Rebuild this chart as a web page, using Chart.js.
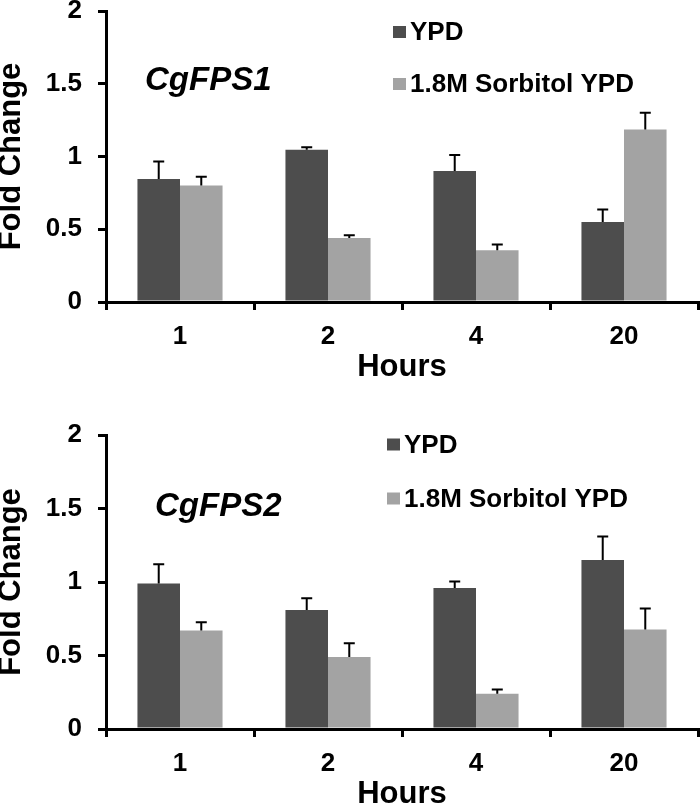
<!DOCTYPE html>
<html>
<head>
<meta charset="utf-8">
<script src="https://cdn.jsdelivr.net/npm/chart.js@4.4.1/dist/chart.umd.min.js"></script>
<style>
    html, body { margin: 0; padding: 0; background: #fff; overflow: hidden; width: 700px; height: 805px; }
    .panel { position: absolute; left: 0; }
</style>
</head>
<body>
<div class="panel" style="top:0"><canvas id="fps1Chart" width="700" height="400"></canvas></div>
<div class="panel" style="top:400px"><canvas id="fps2Chart" width="700" height="427"></canvas></div>
<script>
// Data
const hours = ['1', '2', '4', '20'];
const seriesNames = ['YPD', '1.8M Sorbitol YPD'];

const fps1Ypd = [0.845, 1.046, 0.900, 0.550];
const fps1YpdErr = [0.120, 0.018, 0.110, 0.085];
const fps1Sorb = [0.800, 0.440, 0.355, 1.185];
const fps1SorbErr = [0.060, 0.018, 0.040, 0.115];

const fps2Ypd = [0.990, 0.810, 0.960, 1.150];
const fps2YpdErr = [0.130, 0.080, 0.044, 0.160];
const fps2Sorb = [0.670, 0.490, 0.240, 0.677];
const fps2SorbErr = [0.057, 0.094, 0.028, 0.143];

const yMax = 2;
const yStep = 0.5;

const FONT = "'Liberation Sans', Arial, sans-serif";
const DARK = '#4d4d4d';
const LIGHT = '#a3a3a3';

Chart.defaults.font.family = FONT;
Chart.defaults.color = '#000';

// plus-only error bars, like Excel
const errorBarPlugin = {
    id: 'errorBars',
    afterDatasetsDraw(chart) {
        const ctx = chart.ctx;
        const yScale = chart.scales.y;
        ctx.save();
        ctx.strokeStyle = '#000';
        ctx.lineWidth = 2;
        chart.data.datasets.forEach((ds, i) => {
            const meta = chart.getDatasetMeta(i);
            meta.data.forEach((bar, j) => {
                const err = ds.errors[j];
                const yEnd = yScale.getPixelForValue(ds.data[j] + err);
                ctx.beginPath();
                ctx.moveTo(bar.x, bar.y);
                ctx.lineTo(bar.x, yEnd);
                ctx.moveTo(bar.x - 5.5, yEnd);
                ctx.lineTo(bar.x + 5.5, yEnd);
                ctx.stroke();
            });
        });
        ctx.restore();
    }
};

// legend and gene name drawn inside the plot area
const insideTextPlugin = {
    id: 'insideText',
    afterDraw(chart, args, opts) {
        const ctx = chart.ctx;
        ctx.save();
        ctx.textBaseline = 'middle';
        ctx.textAlign = 'left';
        chart.data.datasets.forEach((ds, i) => {
            const cy = opts.legendY[i];
            ctx.fillStyle = ds.backgroundColor;
            ctx.fillRect(opts.legendX, cy - 6, 13, 12);
            ctx.fillStyle = '#000';
            ctx.font = 'bold 26px ' + FONT;
            ctx.fillText(ds.label, opts.legendX + 17, cy + 1);
        });
        ctx.font = 'italic bold 33px ' + FONT;
        ctx.fillText(opts.gene, opts.geneX, opts.geneY);
        ctx.restore();
    }
};

function buildChart(canvasId, ypd, ypdErr, sorb, sorbErr, place) {
    const ctx = document.getElementById(canvasId).getContext('2d');
    return new Chart(ctx, {
        type: 'bar',
        data: {
            labels: hours,
            datasets: [
                { label: seriesNames[0], data: ypd, errors: ypdErr, backgroundColor: DARK },
                { label: seriesNames[1], data: sorb, errors: sorbErr, backgroundColor: LIGHT }
            ]
        },
        options: {
            responsive: false,
            animation: false,
            devicePixelRatio: 1,
            categoryPercentage: 0.575,
            barPercentage: 1,
            layout: { padding: { top: place.top, right: 2, left: 0, bottom: 0 } },
            plugins: {
                legend: { display: false },
                tooltip: { enabled: false },
                insideText: place.text
            },
            scales: {
                x: {
                    grid: { display: true, offset: true, drawOnChartArea: false, color: '#000', lineWidth: 3, tickLength: 8 },
                    border: { color: '#000', width: 3 },
                    ticks: { font: { size: 26, weight: 'bold' }, padding: 11, color: '#000' },
                    title: { display: true, text: 'Hours', font: { size: 31, weight: 'bold' }, padding: { top: 0, bottom: 14 }, color: '#000' },
                    afterFit(scale) {
                        scale.height = 98;
                        scale.paddingLeft = 0;
                        scale.paddingRight = 0;
                    }
                },
                y: {
                    min: 0,
                    max: yMax,
                    ticks: {
                        stepSize: yStep,
                        font: { size: 26, weight: 'bold' },
                        padding: 16,
                        color: '#000',
                        callback: value => String(value)
                    },
                    grid: { display: true, drawOnChartArea: false, color: '#000', lineWidth: 3, tickLength: 8 },
                    border: { color: '#000', width: 3 },
                    title: { display: true, text: 'Fold Change', font: { size: 31, weight: 'bold' }, padding: { top: -7, bottom: 0 }, color: '#000' },
                    afterFit(scale) {
                        scale.width = 106;
                        scale.paddingTop = 0;
                        scale.paddingBottom = 0;
                    }
                }
            }
        },
        plugins: [errorBarPlugin, insideTextPlugin]
    });
}

buildChart('fps1Chart', fps1Ypd, fps1YpdErr, fps1Sorb, fps1SorbErr, {
    top: 11,
    text: { gene: 'CgFPS1', geneX: 145, geneY: 81, legendX: 393, legendY: [32, 84] }
});

buildChart('fps2Chart', fps2Ypd, fps2YpdErr, fps2Sorb, fps2SorbErr, {
    top: 35,
    text: { gene: 'CgFPS2', geneX: 155, geneY: 107, legendX: 387, legendY: [44.5, 98.5] }
});
</script>
</body>
</html>
